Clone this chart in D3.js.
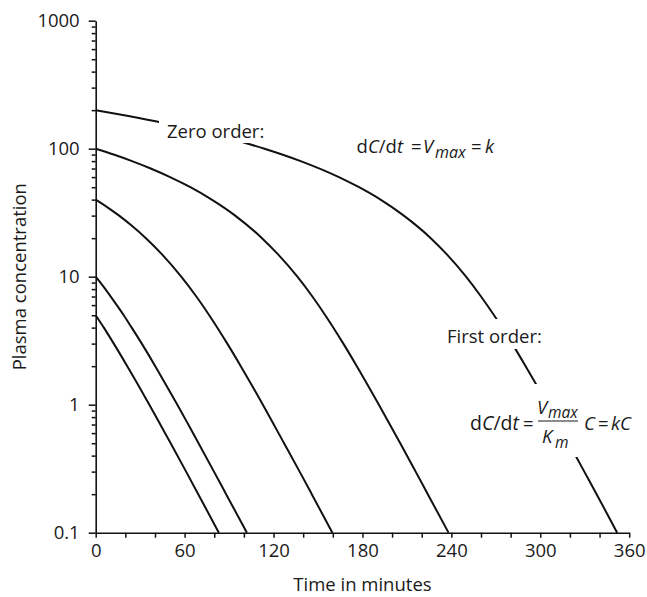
<!DOCTYPE html>
<html>
<head>
<meta charset="utf-8">
<script src="https://cdn.jsdelivr.net/npm/d3@7"></script>
<style>
  body { margin: 0; background: #fff; }
  svg { display: block; }
  text { font-family: "Open Sans", "Noto Sans", sans-serif; fill: #1a1a1a; }
</style>
</head>
<body>
<svg id="chart" width="647" height="597"></svg>
<script>
// Time axis (minutes)
const xMajorTicks = [0, 60, 120, 180, 240, 300, 360];
const xMinorStep = 20;
// Concentration axis (log scale)
const yTickValues = [0.1, 1, 10, 100, 1000];
const yTickLabels = ["0.1", "1", "10", "100", "1000"];

// Plasma concentration over time, [minutes, concentration]
const curveFrom200 = [
  [0, 200], [22.1, 180], [44.5, 160], [67.1, 140], [90.2, 120], [113.9, 100],
  [138.3, 80], [164.1, 60], [177.7, 50], [192.2, 40], [207.9, 30], [226.1, 20],
  [236.8, 15], [249.9, 10], [260.0, 7], [268.8, 5], [281.0, 3], [290.1, 2],
  [296.4, 1.5], [305.0, 1], [312.4, 0.7], [319.3, 0.5], [329.7, 0.3],
  [338.0, 0.2], [343.8, 0.15], [351.9, 0.1]
];
const curveFrom100 = [
  [0, 100], [12.1, 90], [24.5, 80], [37.1, 70], [50.2, 60], [63.9, 50],
  [78.3, 40], [94.1, 30], [112.2, 20], [122.9, 15], [136.1, 10], [146.2, 7],
  [154.9, 5], [167.1, 3], [176.2, 2], [191.1, 1], [205.5, 0.5], [215.9, 0.3],
  [224.1, 0.2], [238.1, 0.1]
];
const curveFrom40 = [
  [0, 40], [7.7, 35], [15.8, 30], [24.4, 25], [33.9, 20], [44.6, 15],
  [57.7, 10], [67.9, 7], [76.6, 5], [88.8, 3], [97.9, 2], [112.8, 1],
  [127.1, 0.5], [137.6, 0.3], [145.8, 0.2], [159.7, 0.1]
];
const curveFrom10 = [
  [0, 10], [6.5, 8], [14.2, 6], [18.9, 5], [24.3, 4], [31.1, 3], [40.2, 2],
  [46.4, 1.5], [55.1, 1], [62.5, 0.7], [69.4, 0.5], [79.8, 0.3], [88.0, 0.2],
  [102.0, 0.1]
];
const curveFrom5 = [
  [0, 5], [5.5, 4], [12.2, 3], [21.3, 2], [27.6, 1.5], [36.2, 1], [43.6, 0.7],
  [50.6, 0.5], [61.0, 0.3], [69.2, 0.2], [83.1, 0.1]
];
const curves = [curveFrom200, curveFrom100, curveFrom40, curveFrom10, curveFrom5];

const svg = d3.select("#chart");
const x = d3.scaleLinear().domain([0, 360]).range([95.7, 629.2]);
const y = d3.scaleLog().domain([0.1, 1000]).range([532.7, 20.7]);

// Concentration curves
const line = d3.line()
  .x(d => x(d[0]))
  .y(d => y(d[1]))
  .curve(d3.curveMonotoneX);

svg.append("g")
  .selectAll("path")
  .data(curves)
  .join("path")
  .attr("d", line)
  .attr("fill", "none")
  .attr("stroke", "#111")
  .attr("stroke-width", 2)
  .attr("stroke-linejoin", "round");

// X axis
const xTickValues = d3.range(0, 361, xMinorStep);
const xAxis = d3.axisBottom(x)
  .tickValues(xTickValues)
  .tickSize(5)
  .tickSizeOuter(0)
  .tickPadding(6)
  .tickFormat(d => xMajorTicks.includes(d) ? String(d) : "");
const gx = svg.append("g")
  .attr("transform", `translate(0,${y(0.1)})`)
  .call(xAxis);

// Y axis with decade labels and minor ticks
const yAllTicks = [];
for (let i = 0; i < yTickValues.length; i++) {
  yAllTicks.push(yTickValues[i]);
  if (i < yTickValues.length - 1) {
    for (let m = 2; m <= 9; m++) yAllTicks.push(yTickValues[i] * m);
  }
}
const yAxis = d3.axisLeft(y)
  .tickValues(yAllTicks)
  .tickSize(7)
  .tickSizeOuter(0)
  .tickPadding(9)
  .tickFormat(d => {
    const idx = yTickValues.findIndex(v => Math.abs(v - d) < 1e-9);
    return idx >= 0 ? yTickLabels[idx] : "";
  });
const gy = svg.append("g")
  .attr("transform", `translate(${x(0)},0)`)
  .call(yAxis);
gy.selectAll(".tick line")
  .attr("x2", d => yTickValues.some(v => Math.abs(v - d) < 1e-9) ? -7 : -4);

[gx, gy].forEach(g => {
  g.select(".domain").attr("stroke", "#111").attr("stroke-width", 1.6);
  g.selectAll(".tick line").attr("stroke", "#111").attr("stroke-width", 1.5);
  g.selectAll(".tick text")
    .style("font-family", "'Open Sans', sans-serif")
    .style("font-size", "18.5px")
    .attr("fill", "#1a1a1a");
});

// Axis titles
svg.append("text")
  .attr("x", (x(0) + x(360)) / 2)
  .attr("y", 591)
  .attr("text-anchor", "middle")
  .style("font-size", "18.5px")
  .text("Time in minutes");

svg.append("text")
  .attr("transform", `translate(26,${(y(0.1) + y(1000)) / 2}) rotate(-90)`)
  .attr("text-anchor", "middle")
  .style("font-size", "18.5px")
  .text("Plasma concentration");

// Annotation helper: a text group sitting on a white box
function annotation(build, pad) {
  const g = svg.append("g");
  const bg = g.append("rect").attr("fill", "#fff");
  const content = g.append("g");
  build(content);
  const b = content.node().getBBox();
  bg.attr("x", b.x - pad.l)
    .attr("y", b.y - pad.t)
    .attr("width", b.width + pad.l + pad.r)
    .attr("height", b.height + pad.t + pad.b);
  return g;
}

// "Zero order:" label
annotation(g => {
  g.append("text").attr("x", 167).attr("y", 138)
    .style("font-size", "18.5px").text("Zero order:");
}, { l: 8, r: 4, t: 2, b: 0 });

// dC/dt = Vmax = k
annotation(g => {
  const t1 = g.append("text").attr("x", 403).attr("y", 153)
    .attr("text-anchor", "end").style("font-size", "18.5px");
  t1.append("tspan").text("d");
  t1.append("tspan").style("font-style", "italic").text("C");
  t1.append("tspan").text("/d");
  t1.append("tspan").style("font-style", "italic").text("t");
  g.append("text").attr("x", 411).attr("y", 153).style("font-size", "18.5px").text("=");
  g.append("text").attr("x", 423).attr("y", 153).style("font-size", "18.5px")
    .style("font-style", "italic").text("V");
  g.append("text").attr("x", 435).attr("y", 158).style("font-size", "16px")
    .style("font-style", "italic").text("max");
  g.append("text").attr("x", 471).attr("y", 153).style("font-size", "18.5px").text("=");
  g.append("text").attr("x", 485).attr("y", 153).style("font-size", "18.5px")
    .style("font-style", "italic").text("k");
}, { l: 4, r: 4, t: 2, b: 2 });

// "First order:" label
annotation(g => {
  g.append("text").attr("x", 447).attr("y", 343)
    .style("font-size", "18.5px").text("First order:");
}, { l: 4, r: 4, t: 4, b: 1 });

// dC/dt = (Vmax / Km) C = kC
annotation(g => {
  const t1 = g.append("text").attr("x", 519).attr("y", 430)
    .attr("text-anchor", "end").style("font-size", "19.5px");
  t1.append("tspan").text("d");
  t1.append("tspan").style("font-style", "italic").text("C");
  t1.append("tspan").text("/d");
  t1.append("tspan").style("font-style", "italic").text("t");
  g.append("text").attr("x", 523).attr("y", 430).style("font-size", "18.5px").text("=");
  g.append("line").attr("x1", 538).attr("x2", 578).attr("y1", 421).attr("y2", 421)
    .attr("stroke", "#1a1a1a").attr("stroke-width", 1.2);
  g.append("text").attr("x", 537).attr("y", 414).style("font-size", "18.5px")
    .style("font-style", "italic").text("V");
  g.append("text").attr("x", 548).attr("y", 418).style("font-size", "15.5px")
    .style("font-style", "italic").text("max");
  g.append("text").attr("x", 542).attr("y", 443).style("font-size", "18.5px")
    .style("font-style", "italic").text("K");
  g.append("text").attr("x", 555).attr("y", 448).style("font-size", "15.5px")
    .style("font-style", "italic").text("m");
  g.append("text").attr("x", 584).attr("y", 430).style("font-size", "18.5px")
    .style("font-style", "italic").text("C");
  g.append("text").attr("x", 598).attr("y", 430).style("font-size", "18.5px").text("=");
  g.append("text").attr("x", 611).attr("y", 430).style("font-size", "18.5px")
    .style("font-style", "italic").text("kC");
}, { l: 4, r: 2, t: 10, b: 4 });
</script>
</body>
</html>
